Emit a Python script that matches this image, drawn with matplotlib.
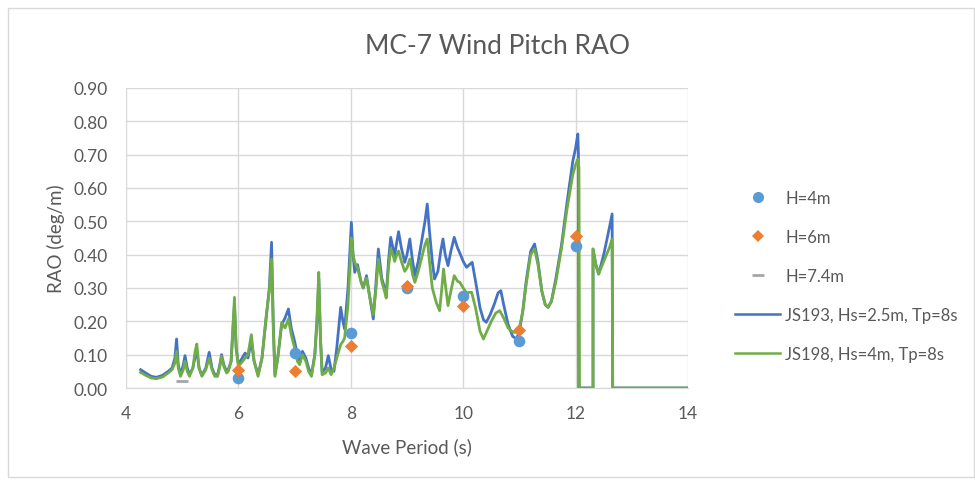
import matplotlib.pyplot as plt
from matplotlib.lines import Line2D
from matplotlib.patches import Rectangle

plt.rcParams['font.family'] = ['Lato', 'DejaVu Sans']

# JS193, Hs=2.5m, Tp=8s  (blue line)
js193_x = [4.26, 4.35, 4.45, 4.54, 4.65, 4.75, 4.82, 4.87, 4.90, 4.93, 4.97, 5.02, 5.05, 5.09, 5.13,
           5.19, 5.23, 5.26, 5.30, 5.35, 5.42, 5.48, 5.53, 5.58, 5.63, 5.67, 5.70, 5.74, 5.79, 5.82,
           5.87, 5.93, 5.96, 6.00, 6.05, 6.12, 6.17, 6.23, 6.28, 6.35, 6.42, 6.50, 6.55, 6.59, 6.62,
           6.65, 6.70, 6.77, 6.83, 6.89, 6.94, 7.00, 7.05, 7.09, 7.14, 7.20, 7.25, 7.30, 7.36, 7.40,
           7.43, 7.46, 7.49, 7.55, 7.60, 7.65, 7.70, 7.75, 7.82, 7.86, 7.89, 7.95, 8.01, 8.04, 8.07,
           8.12, 8.18, 8.22, 8.28, 8.33, 8.40, 8.45, 8.49, 8.55, 8.60, 8.63, 8.67, 8.71, 8.75, 8.78,
           8.82, 8.85, 8.90, 8.96, 9.00, 9.05, 9.10, 9.14, 9.20, 9.26, 9.32, 9.36, 9.40, 9.45, 9.49,
           9.55, 9.60, 9.64, 9.68, 9.73, 9.78, 9.84, 9.90, 9.94, 10.00, 10.06, 10.11, 10.16, 10.22,
           10.30, 10.36, 10.41, 10.48, 10.55, 10.62, 10.67, 10.72, 10.80, 10.88, 10.95, 11.00, 11.06,
           11.12, 11.20, 11.27, 11.33, 11.40, 11.46, 11.51, 11.57, 11.65, 11.75, 11.85, 11.95, 12.00,
           12.04, 12.05, 12.055, 12.31, 12.31, 12.36, 12.41, 12.50, 12.60, 12.65, 12.66, 14.00]
js193_y = [0.055, 0.045, 0.035, 0.032, 0.038, 0.050, 0.060, 0.090, 0.147, 0.070, 0.040, 0.070, 0.097, 0.060, 0.040,
           0.060, 0.095, 0.110, 0.060, 0.038, 0.060, 0.107, 0.060, 0.040, 0.040, 0.070, 0.100, 0.070, 0.050, 0.055,
           0.080, 0.250, 0.120, 0.070, 0.085, 0.105, 0.090, 0.140, 0.080, 0.040, 0.090, 0.220, 0.300, 0.437, 0.200,
           0.040, 0.090, 0.190, 0.210, 0.237, 0.180, 0.140, 0.100, 0.080, 0.110, 0.090, 0.060, 0.040, 0.100, 0.200,
           0.330, 0.150, 0.047, 0.060, 0.097, 0.055, 0.050, 0.120, 0.242, 0.200, 0.177, 0.300, 0.497, 0.400, 0.347,
           0.370, 0.320, 0.300, 0.337, 0.280, 0.207, 0.320, 0.417, 0.330, 0.300, 0.277, 0.380, 0.452, 0.420, 0.397,
           0.440, 0.469, 0.420, 0.377, 0.400, 0.447, 0.380, 0.337, 0.380, 0.440, 0.500, 0.552, 0.470, 0.380, 0.327,
           0.350, 0.410, 0.447, 0.400, 0.367, 0.410, 0.452, 0.420, 0.405, 0.380, 0.362, 0.370, 0.377, 0.320,
           0.240, 0.205, 0.197, 0.220, 0.250, 0.285, 0.292, 0.250, 0.190, 0.155, 0.147, 0.170, 0.230,
           0.320, 0.410, 0.432, 0.380, 0.290, 0.250, 0.242, 0.260, 0.330, 0.430, 0.560, 0.680, 0.720,
           0.762, 0.700, 0.000, 0.000, 0.417, 0.370, 0.342, 0.400, 0.480, 0.522, 0.000, 0.000]

# JS198, Hs=4m, Tp=8s  (green line)
js198_x = [4.26, 4.35, 4.45, 4.54, 4.65, 4.75, 4.82, 4.87, 4.90, 4.93, 4.97, 5.02, 5.05, 5.09, 5.13,
           5.19, 5.23, 5.26, 5.30, 5.35, 5.42, 5.48, 5.53, 5.58, 5.63, 5.67, 5.70, 5.74, 5.79, 5.82,
           5.87, 5.93, 5.96, 6.00, 6.05, 6.12, 6.17, 6.23, 6.28, 6.35, 6.42, 6.50, 6.55, 6.59, 6.62,
           6.65, 6.70, 6.77, 6.83, 6.89, 6.94, 7.00, 7.05, 7.09, 7.14, 7.20, 7.25, 7.30, 7.36, 7.40,
           7.43, 7.46, 7.49, 7.55, 7.60, 7.65, 7.70, 7.75, 7.82, 7.86, 7.89, 7.95, 8.01, 8.04, 8.07,
           8.12, 8.18, 8.22, 8.28, 8.33, 8.40, 8.45, 8.49, 8.55, 8.60, 8.63, 8.67, 8.71, 8.75, 8.78,
           8.82, 8.85, 8.90, 8.96, 9.00, 9.05, 9.10, 9.14, 9.20, 9.26, 9.32, 9.36, 9.40, 9.45, 9.52,
           9.58, 9.62, 9.65, 9.69, 9.73, 9.78, 9.84, 9.90, 9.94, 10.00, 10.06, 10.11, 10.15, 10.22,
           10.30, 10.36, 10.42, 10.50, 10.58, 10.65, 10.72, 10.80, 10.88, 10.92, 11.00, 11.06,
           11.12, 11.20, 11.27, 11.33, 11.40, 11.46, 11.51, 11.57, 11.65, 11.75, 11.85, 11.95, 12.00,
           12.04, 12.06, 12.07, 12.31, 12.31, 12.36, 12.41, 12.50, 12.60, 12.65, 12.66, 14.00]
js198_y = [0.047, 0.038, 0.030, 0.028, 0.033, 0.045, 0.055, 0.075, 0.110, 0.060, 0.035, 0.055, 0.080, 0.050, 0.035,
           0.060, 0.110, 0.132, 0.060, 0.035, 0.055, 0.090, 0.055, 0.035, 0.035, 0.065, 0.095, 0.065, 0.045, 0.050,
           0.080, 0.272, 0.120, 0.065, 0.075, 0.090, 0.100, 0.160, 0.080, 0.035, 0.090, 0.225, 0.290, 0.387, 0.180,
           0.035, 0.090, 0.197, 0.180, 0.207, 0.160, 0.120, 0.080, 0.070, 0.100, 0.080, 0.050, 0.035, 0.100, 0.220,
           0.347, 0.150, 0.040, 0.045, 0.060, 0.040, 0.060, 0.090, 0.130, 0.140, 0.150, 0.250, 0.450, 0.400, 0.377,
           0.360, 0.320, 0.300, 0.330, 0.280, 0.220, 0.300, 0.387, 0.320, 0.290, 0.270, 0.360, 0.417, 0.400, 0.380,
           0.400, 0.411, 0.380, 0.350, 0.360, 0.387, 0.340, 0.317, 0.350, 0.390, 0.430, 0.447, 0.380, 0.300, 0.257,
           0.232, 0.300, 0.357, 0.300, 0.247, 0.290, 0.337, 0.320, 0.317, 0.300, 0.285, 0.287, 0.287, 0.240,
           0.170, 0.147, 0.170, 0.200, 0.225, 0.232, 0.210, 0.180, 0.168, 0.167, 0.180, 0.230,
           0.310, 0.400, 0.417, 0.370, 0.290, 0.250, 0.242, 0.260, 0.320, 0.420, 0.540, 0.640, 0.670,
           0.687, 0.660, 0.000, 0.000, 0.417, 0.370, 0.342, 0.380, 0.420, 0.447, 0.000, 0.000]

# point measurements
h_x = [6, 7, 8, 9, 10, 11, 12]
h4_y = [0.030, 0.105, 0.165, 0.300, 0.275, 0.140, 0.425]
h6_y = [0.055, 0.050, 0.127, 0.305, 0.245, 0.175, 0.455]
h74_x = [5]
h74_y = [0.020]

grey = '#595959'

fig = plt.figure(figsize=(9.75, 4.85), dpi=100)
ax = fig.add_axes([126/975, 1-389/485, (688-126)/975, 300/485])

ax.plot(js193_x, js193_y, color='#4472C4', lw=2.0, zorder=3)
ax.plot(js198_x, js198_y, color='#70AD47', lw=2.0, zorder=4)
ax.scatter(h_x, h4_y, s=70, color='#5B9BD5', zorder=5, linewidths=0)
ax.scatter(h_x, h6_y, s=45, marker='D', color='#ED7D31', zorder=6, linewidths=0)
ax.plot(h74_x, h74_y, ls='none', marker='_', ms=9, mew=2, color='#A5A5A5', zorder=6)

ax.set_xlim(4, 14)
ax.set_ylim(0, 0.9)
ax.set_xticks([4, 6, 8, 10, 12, 14])
ax.set_yticks([i / 10 for i in range(10)])
ax.set_yticklabels([f'{i / 10:.2f}' for i in range(10)])
ax.grid(True, color='#D9D9D9', lw=1)
ax.set_axisbelow(True)
for s in ['top', 'right', 'left']:
    ax.spines[s].set_visible(False)
ax.spines['bottom'].set_color('#D9D9D9')
ax.tick_params(length=0, colors=grey, labelsize=12.5)
ax.tick_params(axis='y', pad=13)
ax.tick_params(axis='x', pad=12)

ax.set_xlabel('Wave Period (s)', fontsize=13.5, color=grey, labelpad=12)
ax.set_ylabel('RAO (deg/m)', fontsize=13.5, color=grey, labelpad=6)
fig.text(497/975, 1-47/485, 'MC-7 Wind Pitch RAO', fontsize=19, color=grey, ha='center', va='center')

handles = [
    Line2D([], [], ls='none', marker='o', ms=8, color='#5B9BD5', mew=0),
    Line2D([], [], ls='none', marker='D', ms=6, color='#ED7D31', mew=0),
    Line2D([], [], ls='none', marker='_', ms=9, mew=2, color='#A5A5A5'),
    Line2D([], [], color='#4472C4', lw=1.8),
    Line2D([], [], color='#70AD47', lw=1.8),
]
labels = ['H=4m', 'H=6m', 'H=7.4m', 'JS193, Hs=2.5m, Tp=8s', 'JS198, Hs=4m, Tp=8s']
leg = fig.legend(handles, labels, loc='center left', bbox_to_anchor=(727/975, 1-277/485),
                 frameon=False, fontsize=12, handlelength=2.7, handletextpad=0.3,
                 labelspacing=1.38, labelcolor=grey, borderpad=0)

# chart area border
fig.patches.append(Rectangle((8/975, 1-478/485), 966/975, 469/485, transform=fig.transFigure,
                             fill=False, edgecolor='#D9D9D9', lw=1))

fig.savefig('out.png', dpi=100, facecolor='white')
